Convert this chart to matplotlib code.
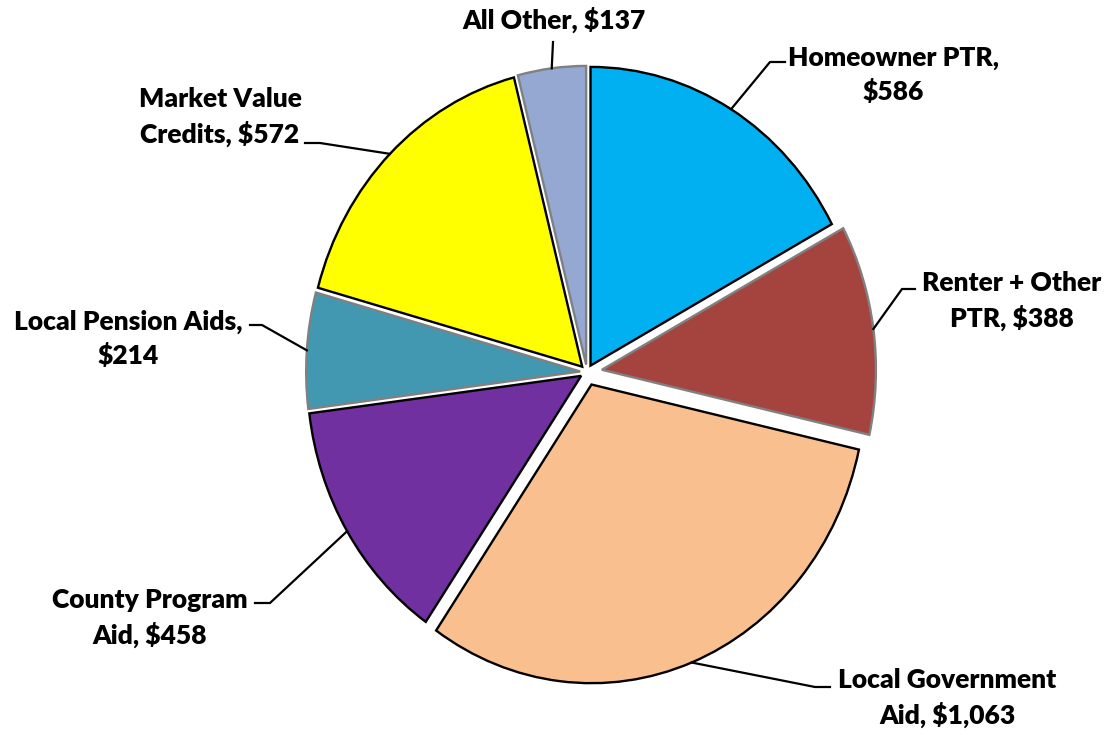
import numpy as np
import matplotlib
matplotlib.use("Agg")
import matplotlib.pyplot as plt

labels = ["Homeowner PTR,\n$586", "Renter + Other\nPTR, $388", "Local Government\nAid, $1,063",
          "County Program\nAid, $458", "Local Pension Aids,\n$214", "Market Value\nCredits, $572",
          "All Other, $137"]
values = [586, 388, 1063, 458, 214, 572, 137]
colors = ["#00B0F0", "#A5443F", "#F9BF8F", "#7030A0", "#4298B0", "#FFFF00", "#95A8D2"]
edges = ["black", "#808080", "black", "black", "#808080", "black", "#808080"]
explode = [0.025, 0.055, 0.045, 0.025, 0.025, 0.025, 0.025]

# layout in pixels (x from left, y from top)
W, H = 1107, 735
SY = 1.09  # the reference pie is stretched vertically
R = 274
label_pos = [(893, 75), (1012, 301), (947, 698), (150, 618), (128, 339), (220, 117), (554, 20)]
elbow = [(770, 62), (902, 289), (815, 687), (270, 603), (262, 325), (320, 143), (553, 42)]
elbow_end = [(785, 62), (915, 289), (830, 687), (255, 603), (250, 325), (305, 143), None]


def d(p):
    return p[0], (H - p[1]) / SY


plt.rcParams['font.family'] = ['Lato', 'DejaVu Sans']
fig = plt.figure(figsize=(W / 100, H / 100), dpi=100)
ax = fig.add_axes([0, 0, 1, 1])

wedges, _ = ax.pie(values, colors=colors, explode=[e * R for e in explode], startangle=90,
                   counterclock=False, center=d((587, 372)), radius=R, frame=True,
                   wedgeprops=dict(linewidth=1.7))
for w, ec in zip(wedges, edges):
    w.set_edgecolor(ec)

ax.set_aspect('auto')
ax.set_xlim(0, W)
ax.set_ylim(0, H / SY)
ax.axis('off')

for w, lab, lp, el, ee in zip(wedges, labels, label_pos, elbow, elbow_end):
    mid = np.deg2rad((w.theta1 + w.theta2) / 2)
    ax_pt = (w.center[0] + w.r * np.cos(mid), w.center[1] + w.r * np.sin(mid))
    ex, ey = d(el)
    xs, ys = [ax_pt[0], ex], [ax_pt[1], ey]
    if ee is not None:
        xs.append(d(ee)[0])
        ys.append(d(ee)[1])
    ax.plot(xs, ys, color='black', lw=1.6, zorder=5)
    ax.text(*d(lp), lab, ha='center', va='center', ma='center', fontsize=19,
            fontweight='heavy', linespacing=1.4)

fig.savefig("out.png", dpi=100)
